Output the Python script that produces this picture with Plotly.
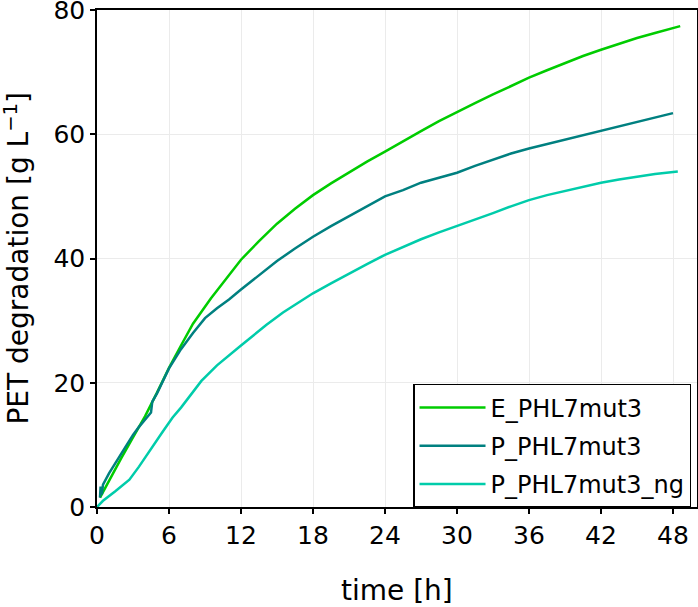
import plotly.graph_objects as go

# E_PHL7mut3
t_e = [0.25, 1, 2, 3, 4, 5, 6, 7, 8, 9.5, 11, 12, 13.5, 15, 16.5, 18, 19.5, 21, 22.5, 24, 25.5, 27, 28.5, 30,
       31.5, 33, 34.5, 36, 37.5, 39, 40.5, 42, 43.5, 45, 46.5, 48, 48.6]
y_e = [1.5, 4.3, 7.8, 11.2, 14.6, 18.4, 22.4, 26.0, 29.5, 33.6, 37.4, 39.8, 42.8, 45.6, 48.0, 50.2, 52.1, 53.9, 55.6,
       57.2, 58.9, 60.5, 62.1, 63.6, 65.0, 66.4, 67.8, 69.1, 70.3, 71.5, 72.6, 73.6, 74.6, 75.5, 76.3, 77.1, 77.4]

# P_PHL7mut3
t_p = [0.25, 0.3, 0.4, 0.5, 1, 2, 3, 3.5, 4.0, 4.5, 4.6, 5, 6, 7, 8, 9, 10, 11, 12, 13.5, 15, 16.5, 18, 19.5, 21,
       22.5, 24, 25.5, 27, 28.5, 30, 31.5, 33, 34.5, 36, 37.5, 39, 40.5, 42, 43.5, 45, 46.5, 48]
y_p = [1.5, 3.3, 2.0, 3.6, 5.4, 8.6, 11.6, 12.9, 14.1, 15.2, 16.9, 18.3, 22.3, 25.4, 28.0, 30.4, 32.0, 33.4, 35.0,
       37.3, 39.6, 41.6, 43.5, 45.2, 46.8, 48.5, 50.0, 51.0, 52.2, 53.0, 53.8, 54.9, 55.9, 56.9, 57.7, 58.4, 59.1,
       59.8, 60.5, 61.2, 61.9, 62.7, 63.4]

# P_PHL7mut3_ng
t_n = [0, 0.5, 1.5, 2.7, 3.5, 4.6, 5.5, 6.3, 7, 8.7, 10, 12, 14.1, 15.5, 17.3, 18, 19.5, 21, 22.5, 24, 25.5, 27,
       28.5, 30, 31.5, 33, 34.5, 36, 37.5, 39, 40.5, 42, 43.5, 45, 46.5, 48.4]
y_n = [0.0, 1.0, 2.5, 4.4, 6.5, 9.7, 12.2, 14.4, 16.0, 20.3, 22.8, 26.0, 29.3, 31.3, 33.5, 34.4, 36.0, 37.6, 39.1,
       40.6, 41.9, 43.1, 44.2, 45.2, 46.3, 47.3, 48.4, 49.4, 50.2, 50.9, 51.6, 52.2, 52.7, 53.2, 53.6, 54.0]

names = ["E_PHL7mut3", "P_PHL7mut3", "P_PHL7mut3_ng"]
colors = ["#00cc00", "#008080", "#00ccaa"]

x_ticks = [0, 6, 12, 18, 24, 30, 36, 42, 48]
y_ticks = [0, 20, 40, 60, 80]

FONT = "DejaVu Sans"

fig = go.Figure()
for t, y, nm, c in zip([t_e, t_p, t_n], [y_e, y_p, y_n], names, colors):
    fig.add_trace(go.Scatter(x=t, y=y, mode="lines", name=nm, legendgroup=nm,
                             line=dict(color=c, width=2.5)))

axis_common = dict(showline=True, mirror=True, linecolor="black", linewidth=1.5,
                   ticks="outside", ticklen=5, tickwidth=1.5, tickcolor="black",
                   showgrid=True, gridcolor="#ebebeb", gridwidth=1, zeroline=False,
                   ticklabeloverflow="allow", automargin=False,
                   tickfont=dict(family=FONT, size=25, color="black"))

fig.update_xaxes(range=[0, 50], tickvals=x_ticks, ticktext=[str(v) for v in x_ticks], **axis_common)
fig.update_yaxes(range=[0, 80], tickvals=y_ticks, ticktext=[str(v) for v in y_ticks], **axis_common)

fig.update_layout(
    width=698, height=607,
    margin=dict(l=97, r=1, t=10, b=100),
    plot_bgcolor="white", paper_bgcolor="white",
    font=dict(family=FONT, color="black"),
    showlegend=True,
    legend=dict(x=0.5267, y=0.2475, xanchor="left", yanchor="top",
                bgcolor="white", bordercolor="black", borderwidth=1.5,
                tracegroupgap=4,
                font=dict(family=FONT, size=24, color="black"), itemwidth=66),
    annotations=[
        dict(text="time [h]", xref="paper", yref="paper", x=0.5, y=-0.169,
             xanchor="center", yanchor="middle", showarrow=False,
             font=dict(family=FONT, size=28, color="black")),
        dict(text="PET degradation [g L<sup>\u22121</sup>]", xref="paper", yref="paper",
             x=-0.1333, y=0.5, xanchor="center", yanchor="middle", textangle=-90,
             showarrow=False, font=dict(family=FONT, size=28, color="black")),
    ],
)

fig.write_html("out.html")
